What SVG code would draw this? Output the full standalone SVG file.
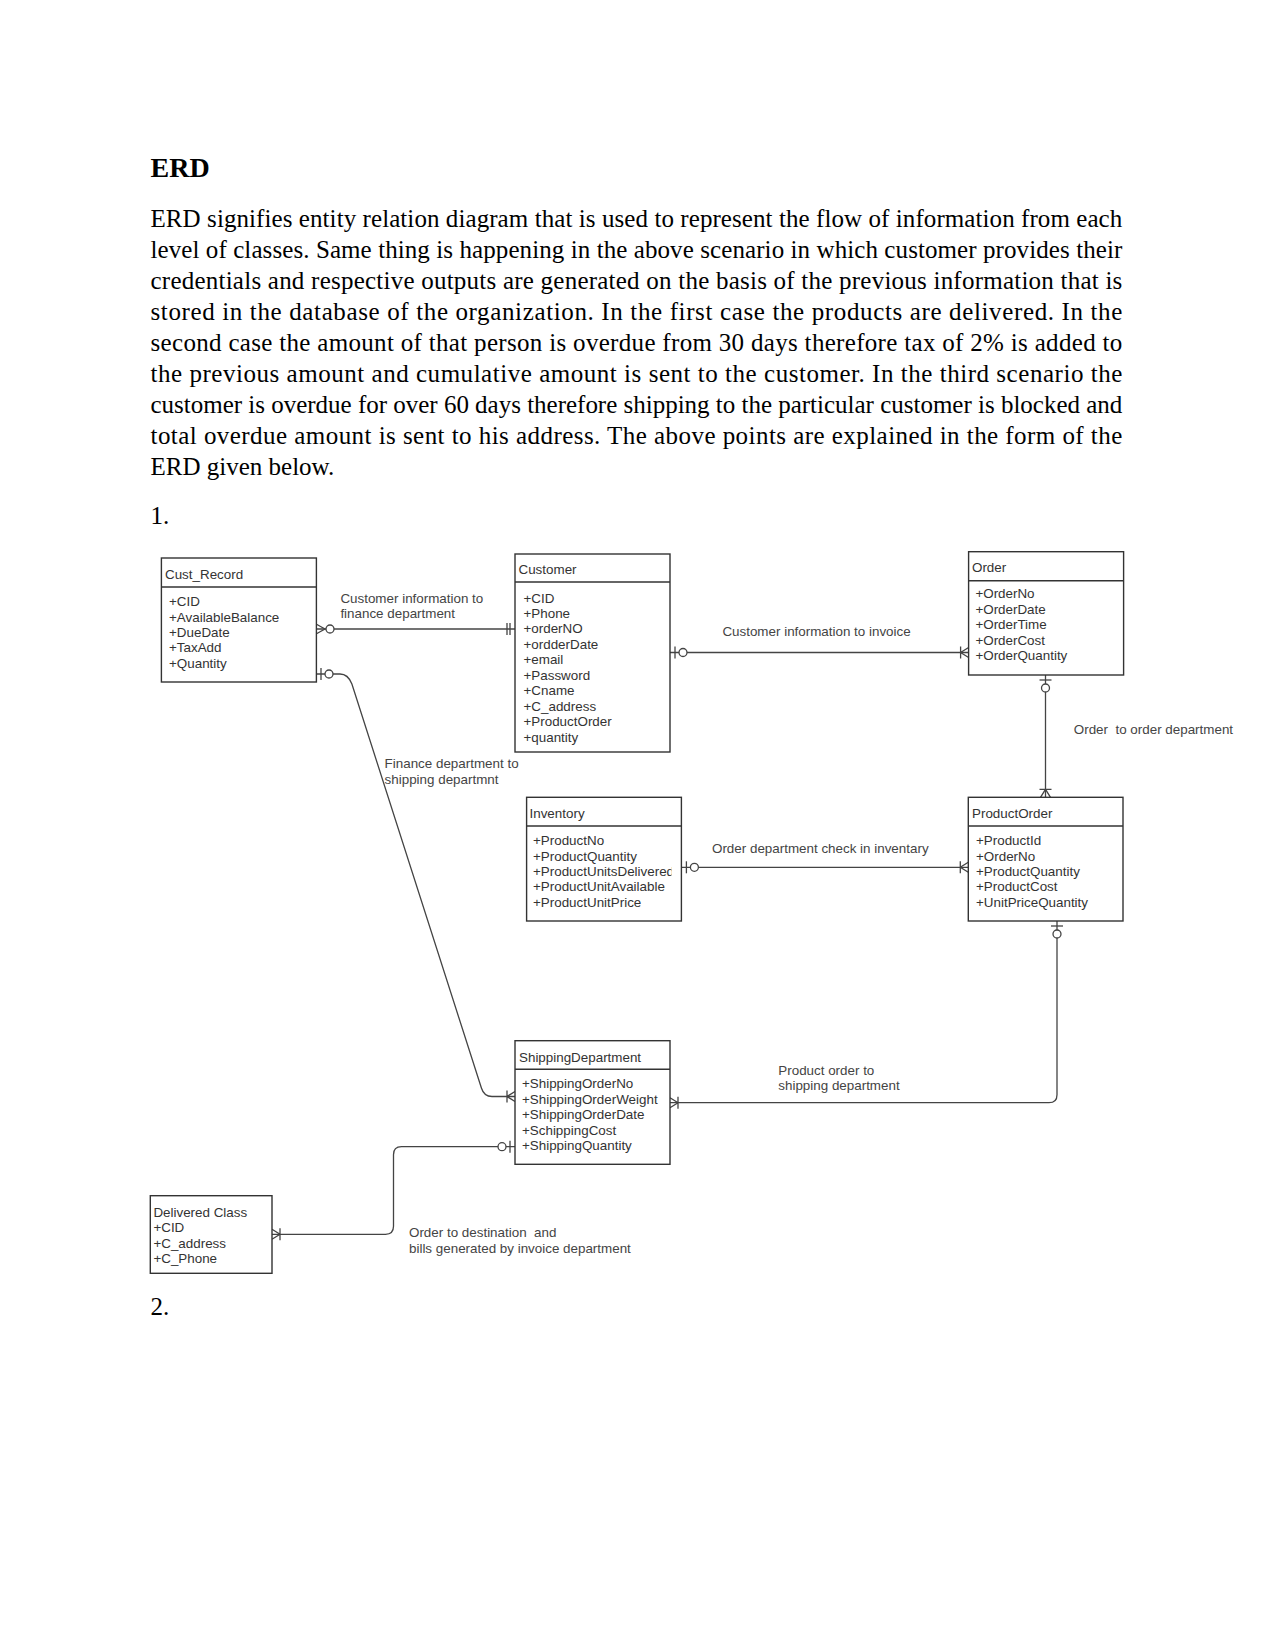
<svg xmlns="http://www.w3.org/2000/svg" width="1275" height="1651" viewBox="0 0 1275 1651">
<style>
.body{font-family:"Liberation Serif","Times New Roman",serif;font-size:25px;fill:#000}
.h{font-family:"Liberation Serif","Times New Roman",serif;font-size:28px;font-weight:bold;fill:#000}
.ent rect{fill:#fff;stroke:#333;stroke-width:1.4}
.ent line{stroke:#333;stroke-width:1.4}
.t{font-family:"Liberation Sans",Arial,sans-serif;font-size:13.4px;fill:#333}
.lbl{font-family:"Liberation Sans",Arial,sans-serif;font-size:13.4px;fill:#444;white-space:pre}
.conn{fill:none;stroke:#444;stroke-width:1.3}
</style>
<defs>
<g id="zeroOne"><path d="M5,-6V6" fill="none"/><circle cx="13" cy="0" r="4" fill="#fff"/></g>
<g id="zeroMany"><path d="M0,-5L9,0L0,5" fill="none"/><circle cx="14" cy="0" r="4" fill="#fff"/></g>
<g id="oneMany"><path d="M0,-5L8,0L0,5M8,-6V6" fill="none"/></g>
<g id="oneOnly"><path d="M5,-6V6M8,-6V6" fill="none"/></g>
<clipPath id="invClip"><rect x="527" y="826" width="144.5" height="95"/></clipPath>
</defs>
<rect width="1275" height="1651" fill="#fff"/>

<g id="document-text">
<text class="h" x="150.5" y="176.7">ERD</text>
<text class="body" x="150.5" y="227.3" textLength="971.8" lengthAdjust="spacing">ERD signifies entity relation diagram that is used to represent the flow of information from each</text>
<text class="body" x="150.5" y="258.2" textLength="971.8" lengthAdjust="spacing">level of classes. Same thing is happening in the above scenario in which customer provides their</text>
<text class="body" x="150.5" y="289.1" textLength="971.8" lengthAdjust="spacing">credentials and respective outputs are generated on the basis of the previous information that is</text>
<text class="body" x="150.5" y="320.0" textLength="971.8" lengthAdjust="spacing">stored in the database of the organization. In the first case the products are delivered. In the</text>
<text class="body" x="150.5" y="350.9" textLength="971.8" lengthAdjust="spacing">second case the amount of that person is overdue from 30 days therefore tax of 2% is added to</text>
<text class="body" x="150.5" y="381.8" textLength="971.8" lengthAdjust="spacing">the previous amount and cumulative amount is sent to the customer. In the third scenario the</text>
<text class="body" x="150.5" y="412.7" textLength="971.8" lengthAdjust="spacing">customer is overdue for over 60 days therefore shipping to the particular customer is blocked and</text>
<text class="body" x="150.5" y="443.6" textLength="971.8" lengthAdjust="spacing">total overdue amount is sent to his address. The above points are explained in the form of the</text>
<text class="body" x="150.5" y="474.5">ERD given below.</text>
<text class="body" x="150.5" y="524">1.</text>
<text class="body" x="150.5" y="1315">2.</text>
</g>

<g id="connectors" class="conn">
<path d="M316,629H515"/>
<use href="#zeroMany" transform="translate(316,629)"/>
<use href="#oneOnly" transform="translate(515,629) scale(-1,1)"/>

<path d="M316,674L340,674Q348,674 351.9,684L481.4,1088Q484,1096.5 492,1096.5L515,1096.5"/>
<use href="#zeroOne" transform="translate(316,674)"/>
<use href="#oneMany" transform="translate(515,1096.5) scale(-1,1)"/>

<path d="M670,652.5H968.6"/>
<use href="#zeroOne" transform="translate(670,652.5)"/>
<use href="#oneMany" transform="translate(968.6,652.5) scale(-1,1)"/>

<path d="M1045.5,675V797.3"/>
<use href="#zeroOne" transform="translate(1045.5,675) rotate(90)"/>
<use href="#oneMany" transform="translate(1045.5,797.3) rotate(-90)"/>

<path d="M681.4,867.3H968.3"/>
<use href="#zeroOne" transform="translate(681.4,867.3)"/>
<use href="#oneMany" transform="translate(968.3,867.3) scale(-1,1)"/>

<path d="M1057,921V1094.7Q1057,1102.7 1049,1102.7H670"/>
<use href="#zeroOne" transform="translate(1057,921) rotate(90)"/>
<use href="#oneMany" transform="translate(670,1102.7)"/>

<path d="M515,1146.7H401.5Q393.5,1146.7 393.5,1154.7V1226.3Q393.5,1234.3 385.5,1234.3H272"/>
<use href="#zeroOne" transform="translate(515,1146.7) scale(-1,1)"/>
<use href="#oneMany" transform="translate(272,1234.3)"/>
</g>

<g id="labels">
<text class="lbl" x="340.4" y="603.3">Customer information to</text>
<text class="lbl" x="340.4" y="618.3">finance department</text>
<text class="lbl" x="722.4" y="636">Customer information to invoice</text>
<text class="lbl" x="1073.8" y="734">Order  to order department</text>
<text class="lbl" x="384.6" y="768">Finance department to</text>
<text class="lbl" x="384.6" y="783.5">shipping departmnt</text>
<text class="lbl" x="712" y="852.5">Order department check in inventary</text>
<text class="lbl" x="778.3" y="1075">Product order to</text>
<text class="lbl" x="778.3" y="1090">shipping department</text>
<text class="lbl" x="409" y="1237.3">Order to destination  and</text>
<text class="lbl" x="409" y="1252.7">bills generated by invoice department</text>
</g>

<g id="Cust_Record" class="ent">
<rect x="161.4" y="558" width="155" height="124"/>
<line x1="161.4" y1="587" x2="316.4" y2="587"/>
<text class="t" x="165" y="578.7">Cust_Record</text>
<text class="t" x="169" y="606">+CID</text>
<text class="t" x="169" y="621.5">+AvailableBalance</text>
<text class="t" x="169" y="637">+DueDate</text>
<text class="t" x="169" y="652.4">+TaxAdd</text>
<text class="t" x="169" y="667.8">+Quantity</text>
</g>

<g id="Customer" class="ent">
<rect x="515" y="554" width="155" height="198"/>
<line x1="515" y1="582" x2="670" y2="582"/>
<text class="t" x="518.5" y="574">Customer</text>
<text class="t" x="523.5" y="602.5">+CID</text>
<text class="t" x="523.5" y="618">+Phone</text>
<text class="t" x="523.5" y="633.4">+orderNO</text>
<text class="t" x="523.5" y="648.9">+ordderDate</text>
<text class="t" x="523.5" y="664.3">+email</text>
<text class="t" x="523.5" y="679.8">+Password</text>
<text class="t" x="523.5" y="695.2">+Cname</text>
<text class="t" x="523.5" y="710.7">+C_address</text>
<text class="t" x="523.5" y="726.1">+ProductOrder</text>
<text class="t" x="523.5" y="741.6">+quantity</text>
</g>

<g id="Order" class="ent">
<rect x="968.6" y="551.7" width="155" height="123.3"/>
<line x1="968.6" y1="580.7" x2="1123.6" y2="580.7"/>
<text class="t" x="972" y="571.7">Order</text>
<text class="t" x="975.4" y="598.3">+OrderNo</text>
<text class="t" x="975.4" y="613.7">+OrderDate</text>
<text class="t" x="975.4" y="629.2">+OrderTime</text>
<text class="t" x="975.4" y="644.6">+OrderCost</text>
<text class="t" x="975.4" y="660.1">+OrderQuantity</text>
</g>

<g id="Inventory" class="ent">
<rect x="526.6" y="797.3" width="154.8" height="123.7"/>
<line x1="526.6" y1="826" x2="681.4" y2="826"/>
<text class="t" x="529.5" y="818.3">Inventory</text>
<g clip-path="url(#invClip)">
<text class="t" x="533" y="845">+ProductNo</text>
<text class="t" x="533" y="860.5">+ProductQuantity</text>
<text class="t" x="533" y="876">+ProductUnitsDelivered</text>
<text class="t" x="533" y="891.4">+ProductUnitAvailable</text>
<text class="t" x="533" y="906.8">+ProductUnitPrice</text>
</g>
</g>

<g id="ProductOrder" class="ent">
<rect x="968.3" y="797.3" width="154.7" height="123.7"/>
<line x1="968.3" y1="826" x2="1123" y2="826"/>
<text class="t" x="972" y="818.3">ProductOrder</text>
<text class="t" x="976" y="845">+ProductId</text>
<text class="t" x="976" y="860.5">+OrderNo</text>
<text class="t" x="976" y="876">+ProductQuantity</text>
<text class="t" x="976" y="891.4">+ProductCost</text>
<text class="t" x="976" y="906.8">+UnitPriceQuantity</text>
</g>

<g id="ShippingDepartment" class="ent">
<rect x="515" y="1040.7" width="155" height="123.6"/>
<line x1="515" y1="1069.3" x2="670" y2="1069.3"/>
<text class="t" x="519" y="1061.7">ShippingDepartment</text>
<text class="t" x="522" y="1088.3">+ShippingOrderNo</text>
<text class="t" x="522" y="1103.8">+ShippingOrderWeight</text>
<text class="t" x="522" y="1119.2">+ShippingOrderDate</text>
<text class="t" x="522" y="1134.7">+SchippingCost</text>
<text class="t" x="522" y="1150.1">+ShippingQuantity</text>
</g>

<g id="DeliveredClass" class="ent">
<rect x="150.3" y="1195.7" width="121.7" height="77.6"/>
<text class="t" x="153.4" y="1216.7">Delivered Class</text>
<text class="t" x="153.4" y="1232">+CID</text>
<text class="t" x="153.4" y="1247.5">+C_address</text>
<text class="t" x="153.4" y="1263">+C_Phone</text>
</g>
</svg>
